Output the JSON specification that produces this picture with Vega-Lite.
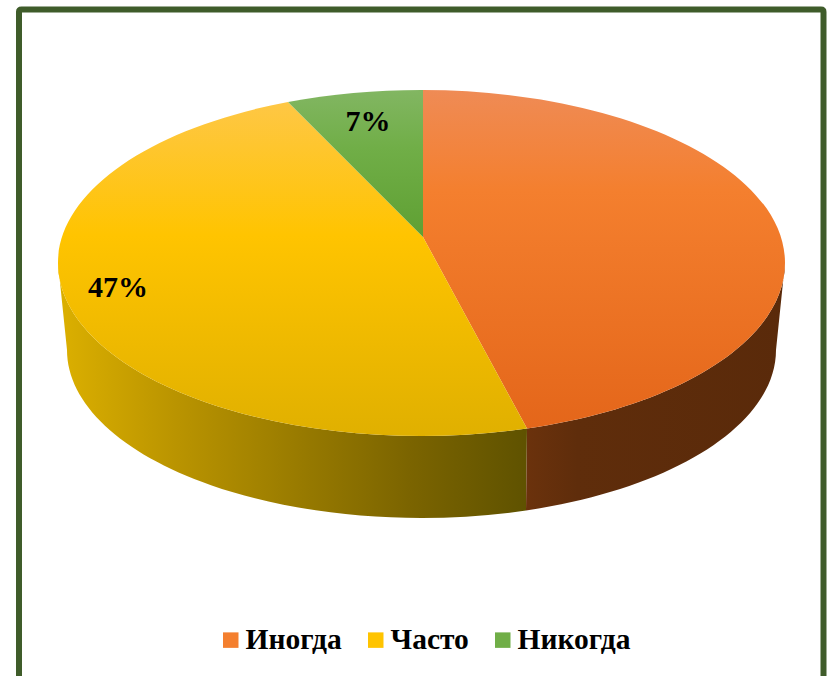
{
 "$schema":"https://vega.github.io/schema/vega-lite/v6.json",
 "width":827,"height":676,"padding":0,"autosize":{"type":"none"},
 "background":"white",
 "config":{"view":{"stroke":null}},
 "data":{"values":[
  {"slice":"Иногда","share":0.46},
  {"slice":"Часто","share":0.47},
  {"slice":"Никогда","share":0.07}
 ]},
 "layer":[
  {"transform":[{"filter":"datum.slice==='Иногда'"}],
   "mark":{"type":"point","filled":false,"opacity":1,"size":4,"stroke":"#3F5C2A","strokeWidth":6,
    "shape":"M-394.5 360L-394.5 -326Q-394.5 -328.5 -392 -328.5L407.5 -328.5Q410 -328.5 410 -326L410 360"}},
  {"transform":[{"filter":"datum.slice==='Часто'"}],
   "mark":{"type":"point","filled":true,"opacity":1,"size":4,"strokeWidth":0,
    "shape":"M-355.5 -75A363.5 173 0 0 0 113.5 90.6L112.5 172.5A354.5 168 0 0 1 -346.5 12Z",
    "fill":{"gradient":"linear","x1":0,"y1":0,"x2":1,"y2":0,"stops":[{"offset":0,"color":"#DCB000"},{"offset":0.25,"color":"#BA9400"},{"offset":0.5,"color":"#9A7C00"},{"offset":0.75,"color":"#7B6400"},{"offset":1,"color":"#5F5200"}]}}},
  {"transform":[{"filter":"datum.slice==='Иногда'"}],
   "mark":{"type":"point","filled":true,"opacity":1,"size":4,"strokeWidth":0,
    "shape":"M113.5 90.6A363.5 173 0 0 0 371.5 -75L362.5 12A354.5 168 0 0 1 112.5 172.5Z",
    "fill":{"gradient":"linear","x1":0,"y1":0,"x2":1,"y2":0,"stops":[{"offset":0,"color":"#6B320C"},{"offset":0.2,"color":"#5F2D0B"},{"offset":1,"color":"#5A2A0A"}]}}},
  {"mark":{"type":"point","filled":true,"opacity":1,"size":4,"strokeWidth":0},
   "encoding":{
    "color":{"field":"slice","type":"nominal","sort":["Иногда","Часто","Никогда"],
     "scale":{"domain":["Иногда","Часто","Никогда"],"range":["#F47F2E","#FFC400","#70AE47"]},
     "legend":{"title":null,"orient":"none","legendX":216,"legendY":625,"direction":"horizontal","symbolType":"square","symbolSize":240,"symbolStrokeWidth":0,"symbolOpacity":1,"labelFont":"Liberation Serif","labelFontWeight":"bold","labelFontSize":29.5,"labelColor":"#000000","labelOffset":0,"columnPadding":19,"labelLimit":300,
      "encoding":{"symbols":{"update":{"fill":{"signal":"datum.value==='Иногда'?{gradient:'linear',x1:0,y1:0,x2:0,y2:1,stops:[{offset:0,color:'#EF8B55'},{offset:1,color:'#F0701F'}]}:datum.value==='Часто'?{gradient:'linear',x1:0,y1:0,x2:0,y2:1,stops:[{offset:0,color:'#FEC745'},{offset:1,color:'#FDC100'}]}:{gradient:'linear',x1:0,y1:0,x2:0,y2:1,stops:[{offset:0,color:'#82B662'},{offset:1,color:'#68A83E'}]}"}}}}}
    }
   }},
  {"mark":{"type":"point","filled":true,"opacity":1,"size":4,"strokeWidth":0,
    "fill":{"expr":"datum.slice==='Иногда'?{gradient:'linear',x1:0,y1:0,x2:0,y2:1,stops:[{offset:0,color:'#EF8B55'},{offset:0.3,color:'#F47F2E'},{offset:1,color:'#E4661A'}]}:datum.slice==='Часто'?{gradient:'linear',x1:0,y1:0,x2:0,y2:1,stops:[{offset:0,color:'#FEC745'},{offset:0.4,color:'#FFC400'},{offset:1,color:'#E0B000'}]}:{gradient:'linear',x1:0,y1:0,x2:0,y2:1,stops:[{offset:0,color:'#82B662'},{offset:0.4,color:'#70AE47'},{offset:1,color:'#5FA033'}]}"}},
   "encoding":{
    "shape":{"field":"share","type":"nominal","legend":null,"scale":{"domain":[0.46,0.47,0.07],"range":[
      "M9.5 -101L9.5 -248A363.5 173 0 0 1 371.5 -75A363.5 173 0 0 1 113.5 90.6Z",
      "M9.5 -101L113.5 90.6A363.5 173 0 0 1 -355.5 -75A363.5 173 0 0 1 -125.5 -236Z",
      "M9.5 -101L-125.5 -236A363.5 173 0 0 1 9.5 -248Z"]}}
   }},
  {"transform":[{"filter":"datum.slice==='Часто'"}],
   "mark":{"type":"text","font":"Liberation Serif","fontWeight":"bold","fontSize":30,"color":"#000000","align":"center","baseline":"alphabetic","dx":-295.5,"dy":-41},
   "encoding":{"text":{"field":"share","type":"quantitative","format":".0%"}}},
  {"transform":[{"filter":"datum.slice==='Никогда'"}],
   "mark":{"type":"text","font":"Liberation Serif","fontWeight":"bold","fontSize":30,"color":"#000000","align":"center","baseline":"alphabetic","dx":-45.5,"dy":-207},
   "encoding":{"text":{"field":"share","type":"quantitative","format":".0%"}}}
 ],
 "resolve":{"legend":{"shape":"independent","color":"independent"},"scale":{"shape":"independent","color":"independent"}}
}
